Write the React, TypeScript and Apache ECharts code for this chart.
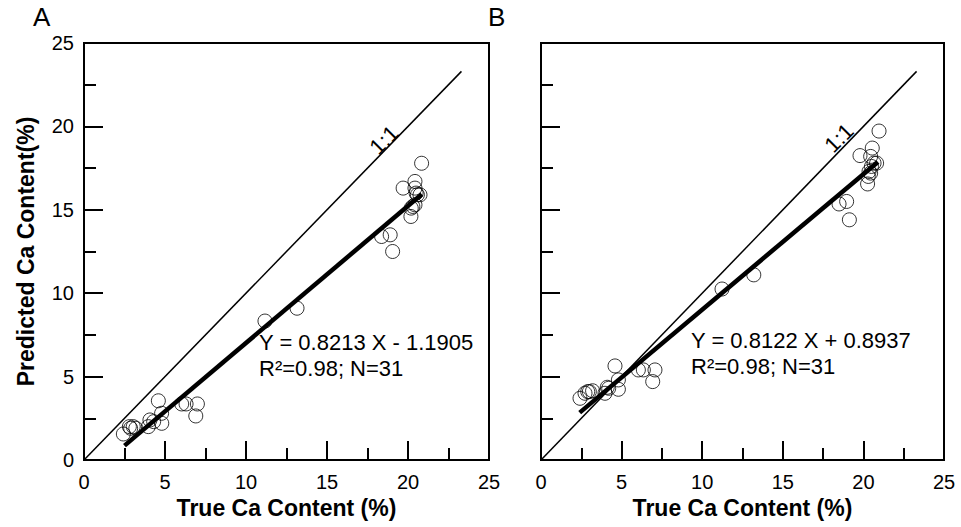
import React, { useEffect, useRef } from "react";
import * as echarts from "echarts";

const trueA = [2.43, 2.8, 2.88, 3.04, 3.97, 4.07, 4.59, 4.79, 4.8, 6.03, 6.3, 7.0, 6.9, 11.17, 13.15, 18.37, 18.9, 19.05, 19.7, 20.18, 20.2, 20.43, 20.43, 20.43, 20.58, 20.74, 20.84, 3.2, 4.3, 20.3, 20.5];
const predA = [1.56, 2.0, 1.9, 2.0, 2.0, 2.4, 3.55, 2.8, 2.2, 3.36, 3.36, 3.36, 2.64, 8.33, 9.1, 13.4, 13.5, 12.5, 16.3, 14.6, 15.1, 15.3, 16.3, 16.7, 15.9, 15.9, 17.79, 1.9, 2.3, 15.2, 16.0];

const trueB = [2.42, 2.73, 3.0, 3.2, 3.97, 4.11, 4.59, 4.8, 4.8, 6.04, 6.35, 7.07, 6.93, 11.23, 13.2, 18.49, 18.96, 19.13, 19.79, 20.26, 20.3, 20.45, 20.45, 20.55, 20.66, 20.82, 20.97, 2.9, 4.2, 20.35, 20.5];
const predB = [3.7, 4.0, 4.1, 4.15, 4.0, 4.36, 5.64, 4.8, 4.24, 5.4, 5.4, 5.4, 4.7, 10.25, 11.1, 15.35, 15.5, 14.4, 18.25, 16.55, 17.0, 17.2, 18.2, 18.7, 17.8, 17.8, 19.72, 4.1, 4.3, 17.3, 17.6];

const oneToOne = [[0, 0], [23.3, 23.3]];
const regA = [[2.5, 0.86], [20.85, 15.93]];
const regB = [[2.4, 2.84], [20.9, 17.87]];

const eqA = ["Y = 0.8213 X - 1.1905", "R\u00B2=0.98; N=31"];
const eqB = ["Y = 0.8122 X + 0.8937", "R\u00B2=0.98; N=31"];

const FONT = "'Liberation Sans', Arial, Helvetica, sans-serif";

export default function App() {
  const ref = useRef<HTMLDivElement>(null);
  useEffect(() => {
    if (!ref.current) return;
    const chart = echarts.init(ref.current, null, { renderer: "svg" });
    const axisCommon = {
      type: "value",
      min: 0,
      max: 25,
      interval: 5,
      axisLine: { show: true, onZero: false, lineStyle: { color: "#000", width: 2 } },
      axisTick: { show: true, inside: true, length: 19, lineStyle: { color: "#000", width: 2 } },
      minorTick: { show: true, splitNumber: 2, length: 12, lineStyle: { color: "#000", width: 2 } },
      splitLine: { show: false },
    };
    const xLabel = { show: true, color: "#000", fontSize: 20, fontFamily: FONT, margin: 12 };
    const yLabel = { show: true, color: "#000", fontSize: 20, fontFamily: FONT, margin: 10 };
    const nameStyle = { color: "#000", fontSize: 23, fontWeight: "bold", fontFamily: FONT };
    const pts = (xs: number[], ys: number[]) => xs.map((x, i) => [x, ys[i]]);
    const scatter = (idx: number, data: number[][]) => ({
      type: "scatter",
      xAxisIndex: idx,
      yAxisIndex: idx,
      data,
      symbol: "circle",
      symbolSize: 14,
      itemStyle: { color: "rgba(0,0,0,0)", borderColor: "#000", borderWidth: 1 },
      z: 3,
    });
    const line = (idx: number, data: number[][], w: number) => ({
      type: "line",
      xAxisIndex: idx,
      yAxisIndex: idx,
      data,
      symbol: "none",
      lineStyle: { color: "#000", width: w },
      z: 4,
    });
    const eqText = (left: number, lines: string[], tops: number[]) =>
      lines.map((t, i) => ({
        type: "text",
        left,
        top: tops[i],
        style: { text: t, fill: "#000", font: `22px ${FONT}` },
        z: 10,
      }));
    chart.setOption({
      animation: false,
      backgroundColor: "#fff",
      grid: [
        { left: 84, top: 43, width: 405, height: 417, show: true, borderColor: "#000", borderWidth: 2 },
        { left: 541, top: 43, width: 403, height: 417, show: true, borderColor: "#000", borderWidth: 2 },
      ],
      xAxis: [
        { ...axisCommon, gridIndex: 0, axisLabel: xLabel, name: "True Ca Content (%)", nameLocation: "middle", nameGap: 36, nameTextStyle: nameStyle },
        { ...axisCommon, gridIndex: 1, axisLabel: xLabel, name: "True Ca Content (%)", nameLocation: "middle", nameGap: 36, nameTextStyle: nameStyle },
      ],
      yAxis: [
        { ...axisCommon, gridIndex: 0, axisLabel: yLabel, name: "Predicted Ca Content(%)", nameLocation: "middle", nameGap: 47, nameTextStyle: nameStyle },
        { ...axisCommon, gridIndex: 1, axisLabel: { show: false } },
      ],
      series: [
        line(0, oneToOne, 1.5),
        line(0, regA, 4.5),
        scatter(0, pts(trueA, predA)),
        line(1, oneToOne, 1.5),
        line(1, regB, 4.5),
        scatter(1, pts(trueB, predB)),
      ],
      graphic: [
        { type: "text", left: 33, top: 4, style: { text: "A", fill: "#000", font: `26px ${FONT}` } },
        { type: "text", left: 488, top: 4, style: { text: "B", fill: "#000", font: `26px ${FONT}` } },
        { type: "text", x: 384, y: 140, rotation: Math.PI / 4, style: { text: "1:1", fill: "#000", font: `22px ${FONT}`, align: "center", verticalAlign: "middle" } },
        { type: "text", x: 839, y: 138, rotation: Math.PI / 4, style: { text: "1:1", fill: "#000", font: `22px ${FONT}`, align: "center", verticalAlign: "middle" } },
        ...eqText(259, eqA, [331, 357]),
        ...eqText(691, eqB, [329, 355]),
      ],
    } as any);
    return () => chart.dispose();
  }, []);
  return <div ref={ref} style={{ width: 961, height: 527, position: "absolute", left: 0, top: 0 }} />;
}
